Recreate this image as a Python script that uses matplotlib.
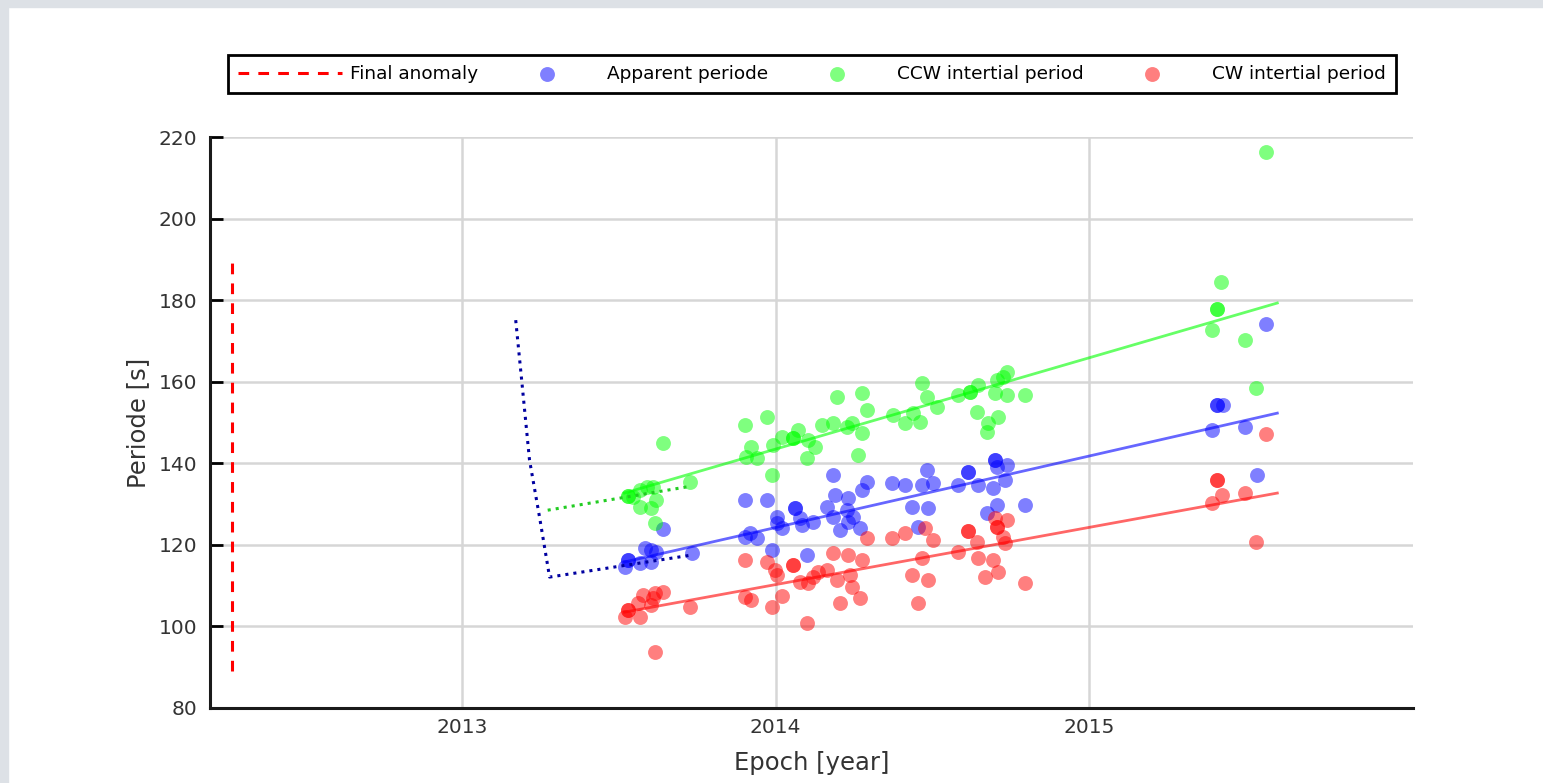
import numpy as np
import matplotlib.pyplot as plt
from matplotlib.patches import Rectangle

# epochs (decimal year) and periods [s]
anomaly_t = [2012.266, 2012.266]
anomaly_p = [89.0, 189.0]

app_t = [2013.528, 2013.528, 2013.518, 2013.566, 2013.582, 2013.604, 2013.620, 2013.604, 2013.640, 2013.732,
         2013.901, 2013.974, 2013.917, 2013.939, 2013.901, 2013.987, 2014.003, 2014.003, 2014.019, 2014.061,
         2014.061, 2014.077, 2014.083, 2014.099, 2014.118, 2014.182, 2014.188, 2014.163, 2014.182, 2014.204,
         2014.230, 2014.226, 2014.246, 2014.230, 2014.268, 2014.274, 2014.290,
         2014.370, 2014.411, 2014.434, 2014.482, 2014.466, 2014.501, 2014.485, 2014.453,
         2014.581, 2014.612, 2014.612, 2014.644, 2014.699, 2014.699, 2014.705, 2014.737, 2014.730, 2014.692,
         2014.705, 2014.673, 2014.794,
         2015.407, 2015.407, 2015.426, 2015.391, 2015.496, 2015.534, 2015.563]
app_p = [116.3, 116.3, 114.6, 115.5, 119.2, 118.7, 118.2, 115.8, 123.9, 118.0,
         131.0, 131.0, 122.9, 121.7, 121.9, 118.7, 126.8, 125.3, 124.1, 129.0,
         129.0, 126.6, 124.9, 117.5, 125.6, 137.1, 132.2, 129.3, 126.8, 123.6,
         131.5, 128.5, 126.8, 125.6, 124.1, 133.4, 135.4,
         135.1, 134.7, 129.3, 138.3, 134.7, 135.1, 129.0, 124.4,
         134.7, 137.8, 137.8, 134.7, 140.8, 140.8, 139.2, 139.6, 135.9, 133.9,
         129.8, 127.8, 129.8,
         154.3, 154.3, 154.3, 148.1, 148.9, 137.1, 174.1]

ccw_t = [2013.528, 2013.528, 2013.544, 2013.566, 2013.589, 2013.608, 2013.620, 2013.566, 2013.604, 2013.614,
         2013.640, 2013.726,
         2013.901, 2013.974, 2013.923, 2013.907, 2013.939, 2013.987, 2013.990, 2014.019, 2014.054, 2014.054,
         2014.070, 2014.102, 2014.124, 2014.099, 2014.147, 2014.182, 2014.195, 2014.226, 2014.242, 2014.274,
         2014.290, 2014.262, 2014.274,
         2014.373, 2014.411, 2014.437, 2014.459, 2014.466, 2014.482, 2014.514,
         2014.581, 2014.619, 2014.619, 2014.644, 2014.641, 2014.676, 2014.673, 2014.708, 2014.699, 2014.705,
         2014.724, 2014.737, 2014.737, 2014.794,
         2015.391, 2015.407, 2015.407, 2015.419, 2015.496, 2015.531, 2015.563]
ccw_p = [132.0, 132.0, 131.7, 133.4, 134.2, 134.2, 131.0, 129.3, 129.0, 125.3,
         144.9, 135.4,
         149.4, 151.3, 144.0, 141.5, 141.3, 137.1, 144.5, 146.4, 146.2, 146.2,
         148.1, 145.7, 144.0, 141.3, 149.4, 149.9, 156.2, 148.9, 149.9, 157.2,
         153.0, 142.0, 147.4,
         151.8, 149.9, 152.3, 150.1, 159.7, 156.2, 153.8,
         156.7, 157.5, 157.5, 159.2, 152.5, 149.9, 147.6, 151.3, 157.2, 160.4,
         161.1, 162.4, 156.7, 156.7,
         172.6, 177.8, 177.8, 184.4, 170.2, 158.4, 216.3]

cw_t = [2013.528, 2013.528, 2013.518, 2013.566, 2013.576, 2013.560, 2013.614, 2013.640, 2013.604, 2013.608,
        2013.726, 2013.614,
        2013.901, 2013.974, 2013.997, 2014.003, 2014.054, 2014.054, 2014.077, 2014.102, 2014.118, 2014.134,
        2014.163, 2014.182, 2014.230, 2014.236, 2014.242, 2014.274, 2014.268, 2014.290, 2014.195, 2013.901,
        2013.923, 2013.987, 2014.019, 2014.099, 2014.204,
        2014.370, 2014.411, 2014.434, 2014.453, 2014.485, 2014.475, 2014.501, 2014.466,
        2014.581, 2014.612, 2014.612, 2014.641, 2014.644, 2014.692, 2014.667, 2014.708, 2014.705, 2014.705,
        2014.699, 2014.737, 2014.724, 2014.730, 2014.794,
        2015.407, 2015.407, 2015.423, 2015.391, 2015.496, 2015.531, 2015.563]
cw_p = [104.0, 104.0, 102.3, 102.3, 107.7, 105.7, 108.2, 108.4, 105.2, 107.0,
        104.8, 93.7,
        116.3, 115.8, 113.8, 112.6, 115.0, 115.0, 110.9, 110.6, 112.1, 113.3,
        113.8, 118.0, 117.5, 112.6, 109.7, 116.3, 107.0, 121.7, 111.4, 107.2,
        106.5, 104.8, 107.5, 100.8, 105.7,
        121.7, 122.9, 112.6, 105.7, 111.4, 124.1, 121.2, 116.8,
        118.2, 123.4, 123.4, 120.7, 116.8, 116.3, 112.1, 113.3, 124.4, 124.4,
        126.6, 126.1, 121.9, 120.4, 110.6,
        135.9, 135.9, 132.2, 130.2, 132.7, 120.7, 147.2]

# linear trends
fit_t = [2013.518, 2015.60]
fit_ccw = [132.7, 179.3]
fit_app = [115.8, 152.3]
fit_cw = [103.5, 132.7]

# early model curves
model_app_t = [2013.171, 2013.190, 2013.215, 2013.247, 2013.279, 2013.732]
model_app_p = [175.1, 160.4, 140.8, 126.8, 112.1, 117.5]
model_ccw_t = [2013.273, 2013.716]
model_ccw_p = [128.5, 134.2]

fig = plt.figure(figsize=(15.43, 7.83), dpi=100)
fig.patches.append(Rectangle((0, 0.991), 1, 0.009, transform=fig.transFigure,
                             color='#dde1e6', zorder=-1))
fig.patches.append(Rectangle((0, 0), 0.005, 1, transform=fig.transFigure,
                             color='#dde1e6', zorder=-1))
ax = fig.add_axes([0.1361, 0.0958, 0.7797, 0.7292])

ax.plot(anomaly_t, anomaly_p, color='red', ls='--', lw=2.2, dashes=(3.5, 3), label='Final anomaly')
ax.scatter(app_t, app_p, s=115, color='blue', alpha=0.5, lw=0, label='Apparent periode', zorder=3)
ax.scatter(ccw_t, ccw_p, s=115, color='lime', alpha=0.5, lw=0, label='CCW intertial period', zorder=3)
ax.scatter(cw_t, cw_p, s=115, color='red', alpha=0.5, lw=0, label='CW intertial period', zorder=3)

ax.plot(fit_t, fit_ccw, color='lime', alpha=0.6, lw=2, zorder=4)
ax.plot(fit_t, fit_app, color='blue', alpha=0.6, lw=2, zorder=4)
ax.plot(fit_t, fit_cw, color='red', alpha=0.6, lw=2, zorder=4)

ax.plot(model_app_t, model_app_p, color='#0000a0', ls=':', lw=2.2, zorder=5)
ax.plot(model_ccw_t, model_ccw_p, color='#22cc22', ls=':', lw=2.2, zorder=5)

ax.set_xlim(2012.196, 2016.033)
ax.set_ylim(80, 220)
ax.set_xticks([2013, 2014, 2015])
ax.set_yticks(np.arange(80, 221, 20))
ax.grid(True, color='#d6d6d6', lw=1.8)
ax.set_axisbelow(True)
for side in ['top', 'right']:
    ax.spines[side].set_visible(False)
for side in ['left', 'bottom']:
    ax.spines[side].set_linewidth(2.2)
    ax.spines[side].set_color('#1a1a1a')
ax.tick_params(direction='in', length=9, width=2, labelsize=14.5, labelcolor='#333333')
ax.tick_params(axis='y', pad=9)
ax.tick_params(axis='x', length=0, pad=7)

ax.set_xlabel('Epoch [year]', fontsize=17.5, color='#333333', labelpad=10)
ax.set_ylabel('Periode [s]', fontsize=17.5, color='#333333', labelpad=6)

leg = ax.legend(loc='lower left', bbox_to_anchor=(0.1478, 0.881, 0.757, 0.046),
                bbox_transform=fig.transFigure, mode='expand', ncol=4, borderaxespad=0,
                fontsize=13.3, handlelength=5.6, handletextpad=0.45, scatterpoints=1,
                fancybox=False, framealpha=1, edgecolor='black', borderpad=0.55)
leg.get_frame().set_linewidth(2)

fig.savefig('out.png', dpi=100)
